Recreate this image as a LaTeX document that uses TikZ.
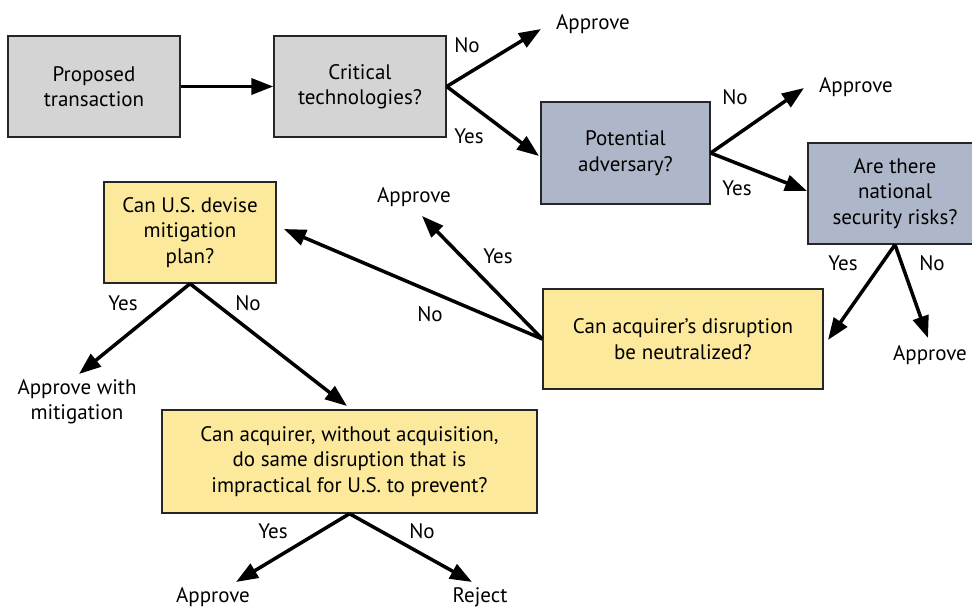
\documentclass[tikz,border=0pt]{standalone}
\usepackage{fontspec}
\setmainfont{PT Sans}
\usetikzlibrary{arrows.meta}
\definecolor{boxgray}{HTML}{D4D4D4}
\definecolor{boxblue}{HTML}{AEB7C9}
\definecolor{boxyellow}{HTML}{FCE99C}
\begin{document}
\begin{tikzpicture}[x=1pt,y=-1pt,
  every node/.style={font=\fontsize{21}{25.5}\selectfont, text=black},
  qbox/.style={draw=black!85, line width=1.4pt, align=center, inner sep=0pt},
  graybox/.style={qbox, fill=boxgray},
  bluebox/.style={qbox, fill=boxblue},
  yellowbox/.style={qbox, fill=boxyellow},
  outcome/.style={align=center, inner sep=1pt},
  branch/.style={inner sep=1pt},
  flow/.style={line width=3.5pt, -{Triangle[length=22pt,width=16pt]}}]
\useasboundingbox (0,0) rectangle (972,608);
\clip (0,0) rectangle (972,608);

% decision boxes
\node[graybox, minimum width=172pt, minimum height=101pt] (prop) at (94,86.5) {Proposed\\transaction};
\node[graybox, minimum width=172pt, minimum height=101pt] (crit) at (360,86.5) {Critical\\technologies?};
\node[bluebox, minimum width=169pt, minimum height=102pt] (pot) at (625.5,153) {Potential\\adversary?};
\node[bluebox, minimum width=174pt, minimum height=101pt] (nsr) at (895,193.5) {Are there\\national\\security risks?};
\node[yellowbox, minimum width=280pt, minimum height=100pt] (neut) at (683,339) {Can acquirer’s disruption\\be neutralized?};
\node[yellowbox, minimum width=172pt, minimum height=101pt] (usd) at (190,232.5) {Can U.S. devise\\mitigation\\plan?};
\node[yellowbox, minimum width=375pt, minimum height=103pt] (big) at (349.5,461.5) {Can acquirer, without acquisition,\\do same disruption that is\\impractical for U.S. to prevent?};

% outcomes
\node[outcome] (ap1) at (593,24) {Approve};
\node[outcome] (ap2) at (856,87) {Approve};
\node[outcome] (ap3) at (930,355) {Approve};
\node[outcome] (ap4) at (414,197) {Approve};
\node[outcome] (apm) at (77,402) {Approve with\\mitigation};
\node[outcome] (ap5) at (213,597) {Approve};
\node[outcome] (rej) at (480,597) {Reject};

% arrow tips
\coordinate (t1) at (541,29);
\coordinate (t2) at (539,156);
\coordinate (t3) at (804,88);
\coordinate (t4) at (807,191);
\coordinate (t5) at (828,340);
\coordinate (t6) at (928,338);
\coordinate (t7) at (284,229);
\coordinate (t8) at (422,216);
\coordinate (t9) at (79,374);
\coordinate (t10) at (347,406);
\coordinate (t11) at (236,582);
\coordinate (t12) at (472,582);

% connectors
\draw[flow] (prop) -- (crit);
\draw[flow] (crit.east) -- (t1);
\draw[flow] (crit.east) -- (t2);
\draw[flow] (pot.east) -- (t3);
\draw[flow] (pot.east) -- (t4);
\draw[flow] (nsr.south) -- (t5);
\draw[flow] (nsr.south) -- (t6);
\draw[flow] (neut.west) -- (t7);
\draw[flow] (neut.west) -- (t8);
\draw[flow] (usd.south) -- (t9);
\draw[flow] (usd.south) -- (t10);
\draw[flow] (big.south) -- (t11);
\draw[flow] (big.south) -- (t12);

% branch labels
\node[branch] (l1) at (467,45) {No};
\node[branch] (l2) at (469,136) {Yes};
\node[branch] (l3) at (735,97) {No};
\node[branch] (l4) at (737,188) {Yes};
\node[branch] (l5) at (843,263) {Yes};
\node[branch] (l6) at (932,263) {No};
\node[branch] (l7) at (498,256) {Yes};
\node[branch] (l8) at (430,314) {No};
\node[branch] (l9) at (123,303) {Yes};
\node[branch] (l10) at (248,303) {No};
\node[branch] (l11) at (273,531) {Yes};
\node[branch] (l12) at (422,531) {No};
\end{tikzpicture}
\end{document}
